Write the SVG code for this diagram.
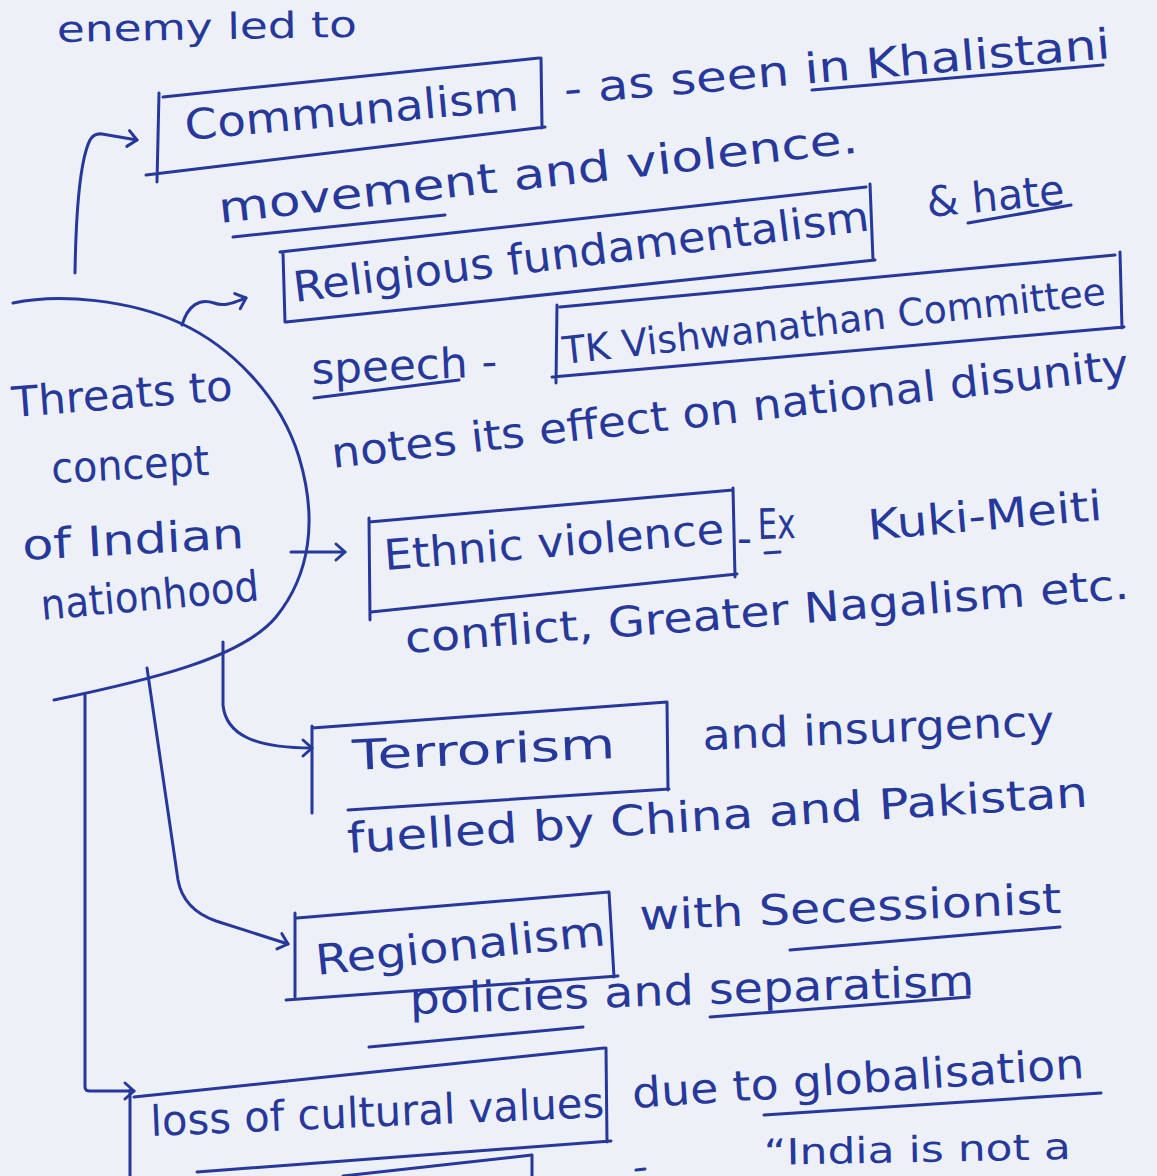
<svg xmlns="http://www.w3.org/2000/svg" width="1157" height="1176" viewBox="0 0 1157 1176">
  <defs>
    <style>
      .ink{fill:none;stroke:#26399b;stroke-width:3;stroke-linecap:round;stroke-linejoin:round}
      text{font-family:"DejaVu Sans","Liberation Sans",sans-serif;font-size:42px;fill:#26399b}
      .sm{font-size:38px}
      .edge{font-size:36px}
    </style>
    <marker id="arr" markerUnits="userSpaceOnUse" markerWidth="24" markerHeight="24" viewBox="0 0 24 24" refX="20" refY="12" orient="auto">
      <path d="M11,4 L20,12 L11,20" fill="none" stroke="#26399b" stroke-width="3" stroke-linecap="round" stroke-linejoin="round"/>
    </marker>
  </defs>

  <!-- paper -->
  <rect width="1157" height="1176" fill="#eef0f8"/>

  <!-- line carried over from the previous page -->
  <g id="heading">
    <text class="edge" transform="translate(57,42) rotate(-1)" textLength="300" lengthAdjust="spacingAndGlyphs">enemy led to</text>
  </g>

  <!-- central idea -->
  <g id="threats">
    <path class="ink" d="M13,303 C60,293 130,300 180,323 C230,346 280,395 299,457 C318,520 310,575 276,617 C242,658 150,680 54,700"/>
    <text transform="translate(13,417) rotate(-4.4)" textLength="221" lengthAdjust="spacingAndGlyphs">Threats to</text>
    <text transform="translate(52,483) rotate(-2.9)" textLength="158" lengthAdjust="spacingAndGlyphs">concept</text>
    <text transform="translate(23,560) rotate(-3.1)" textLength="222" lengthAdjust="spacingAndGlyphs">of Indian</text>
    <text transform="translate(42,620) rotate(-5.2)" textLength="219" lengthAdjust="spacingAndGlyphs">nationhood</text>
  </g>

  <g id="communalism">
    <path class="ink" d="M159,93 L157,182 M163,97 L539,58 M541,58 L542,128 M146,175 L545,127"/>
    <text transform="translate(186,140) rotate(-5.1)" textLength="335" lengthAdjust="spacingAndGlyphs">Communalism</text>
    <text transform="translate(565,104) rotate(-4.8)" textLength="548" lengthAdjust="spacingAndGlyphs">- as seen in Khalistani</text>
    <path class="ink" d="M812,90 L1103,65"/>
    <text transform="translate(220,223) rotate(-6.3)" textLength="643" lengthAdjust="spacingAndGlyphs">movement and violence.</text>
    <path class="ink" d="M233,237 L445,215"/>
  </g>

  <g id="religious">
    <path class="ink" d="M283,253 L285,322 M280,252 L866,187 M870,184 L873,260 M286,322 L875,260"/>
    <text transform="translate(295,302) rotate(-7.1)" textLength="580" lengthAdjust="spacingAndGlyphs">Religious fundamentalism</text>
    <text transform="translate(928,217) rotate(-5.4)" textLength="138" lengthAdjust="spacingAndGlyphs">&amp; hate</text>
    <path class="ink" d="M968,223 L1071,205"/>
    <text transform="translate(312,384) rotate(-2.5)" textLength="186" lengthAdjust="spacingAndGlyphs">speech -</text>
    <path class="ink" d="M314,398 L459,380"/>
  </g>

  <g id="vishwanathan">
    <path class="ink" d="M557,305 L556,383 M560,307 L1115,255 M1120,252 L1122,328 M552,377 L1124,327"/>
    <text class="sm" transform="translate(564,364) rotate(-6.3)" textLength="546" lengthAdjust="spacingAndGlyphs">TK Vishwanathan Committee</text>
    <text transform="translate(333,468) rotate(-6.4)" textLength="802" lengthAdjust="spacingAndGlyphs">notes its effect on national disunity</text>
  </g>

  <g id="ethnic">
    <path class="ink" d="M369,518 L370,620 M369,522 L733,490 M733,488 L735,577 M371,612 L737,574"/>
    <text transform="translate(385,570) rotate(-4.5)" textLength="341" lengthAdjust="spacingAndGlyphs">Ethnic violence</text>
    <text transform="translate(737,553)" textLength="15" lengthAdjust="spacingAndGlyphs">-</text>
    <text transform="translate(758,539) rotate(-1.5)" textLength="38" lengthAdjust="spacingAndGlyphs">Ex</text>
    <path class="ink" d="M765,553 L780,552"/>
    <text transform="translate(869,540) rotate(-4.9)" textLength="235" lengthAdjust="spacingAndGlyphs">Kuki-Meiti</text>
    <text transform="translate(406,653) rotate(-4.3)" textLength="726" lengthAdjust="spacingAndGlyphs">conflict, Greater Nagalism etc.</text>
  </g>

  <g id="terrorism">
    <path class="ink" d="M312,726 L312,813 M312,728 L667,702 M667,702 L668,790 M348,810 L669,789"/>
    <text transform="translate(353,770) rotate(-2.6)" textLength="263" lengthAdjust="spacingAndGlyphs">Terrorism</text>
    <text transform="translate(703,750) rotate(-2.4)" textLength="352" lengthAdjust="spacingAndGlyphs">and insurgency</text>
    <text transform="translate(348,853) rotate(-3.6)" textLength="742" lengthAdjust="spacingAndGlyphs">fuelled by China and Pakistan</text>
  </g>

  <g id="regionalism">
    <path class="ink" d="M295,913 L295,997 M297,918 L609,892 M609,892 L614,977 M286,1000 L618,976"/>
    <text transform="translate(317,975) rotate(-5.9)" textLength="291" lengthAdjust="spacingAndGlyphs">Regionalism</text>
    <text transform="translate(640,930) rotate(-2.3)" textLength="422" lengthAdjust="spacingAndGlyphs">with Secessionist</text>
    <path class="ink" d="M790,950 L1060,927"/>
    <text transform="translate(410,1014) rotate(-1.9)" textLength="565" lengthAdjust="spacingAndGlyphs">policies and separatism</text>
    <path class="ink" d="M369,1047 L583,1027 M710,1017 L969,997"/>
  </g>

  <g id="cultural-loss">
    <path class="ink" d="M130,1090 L130,1176 M134,1097 L604,1048 M606,1048 L607,1142 M197,1172 L611,1141"/>
    <text transform="translate(151,1136) rotate(-2.4)" textLength="454" lengthAdjust="spacingAndGlyphs">loss of cultural values</text>
    <text transform="translate(633,1108) rotate(-3.8)" textLength="453" lengthAdjust="spacingAndGlyphs">due to globalisation</text>
    <path class="ink" d="M764,1115 L1101,1093"/>
  </g>

  <!-- next entry, running off the page -->
  <g id="next-entry">
    <path class="ink" d="M343,1176 L532,1155 L532,1176 M636,1170 L645,1169"/>
    <text class="edge" transform="translate(764,1165) rotate(-1.1)" textLength="307" lengthAdjust="spacingAndGlyphs">“India is not a</text>
  </g>

  <!-- branches from the central idea -->
  <g id="connectors">
    <path class="ink" marker-end="url(#arr)" d="M75,273 C76,210 80,160 90,140 Q94,133 102,134 L137,140"/>
    <path class="ink" marker-end="url(#arr)" d="M182,325 C188,305 200,298 214,303 C225,307 235,302 246,298"/>
    <path class="ink" marker-end="url(#arr)" d="M291,552 L345,552"/>
    <path class="ink" marker-end="url(#arr)" d="M223,642 L223,705 C226,735 255,748 312,748"/>
    <path class="ink" marker-end="url(#arr)" d="M147,668 L178,880 C182,902 196,914 216,921 L288,944"/>
    <path class="ink" marker-end="url(#arr)" d="M85,695 L85,1087 Q85,1091 90,1091 L134,1091"/>
  </g>
</svg>
